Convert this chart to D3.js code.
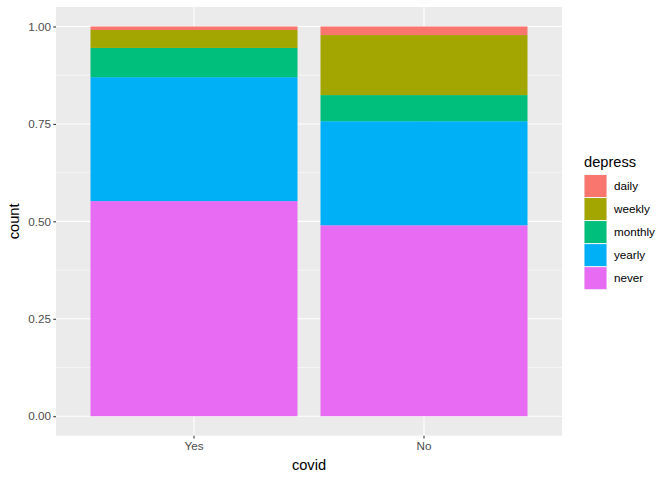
<!DOCTYPE html>
<html><head><meta charset="utf-8">
<script src="https://cdn.jsdelivr.net/npm/d3@7"></script>
<style>body{margin:0;background:#fff}svg{display:block;font-family:"Liberation Sans",Arial,sans-serif}</style>
</head><body><svg id="c" width="672" height="480"></svg>
<script>
const categories = ["Yes", "No"];
const levels = ["daily", "weekly", "monthly", "yearly", "never"];
const colors = ["#F8766D", "#A3A500", "#00BF7D", "#00B0F6", "#E76BF3"];
// proportions per covid group
const daily   = [0.009, 0.022];
const weekly  = [0.046, 0.154];
const monthly = [0.075, 0.067];
const yearly  = [0.318, 0.267];
const never   = [0.552, 0.490];
const yTicks = [0, 0.25, 0.5, 0.75, 1];
const yTickLabels = ["0.00", "0.25", "0.50", "0.75", "1.00"];

const series = {daily, weekly, monthly, yearly, never};
const svg = d3.select("#c");
const P = {l:56, r:562, t:7, b:435.7};

const x = d3.scaleBand().domain(categories).range([P.l, P.r]).paddingInner(0.1).paddingOuter(0.15);
const y = d3.scaleLinear().domain([-0.05, 1.05]).range([P.b, P.t]);

svg.append("rect").attr("x", P.l).attr("y", P.t).attr("width", P.r-P.l).attr("height", P.b-P.t).attr("fill", "#EBEBEB");

// minor grid
const minor = [0.125, 0.375, 0.625, 0.875];
svg.append("g").selectAll("line").data(minor).join("line")
  .attr("x1", P.l).attr("x2", P.r).attr("y1", d=>y(d)).attr("y2", d=>y(d))
  .attr("stroke", "#fff").attr("stroke-width", 0.53);
svg.append("g").selectAll("line").data(yTicks).join("line")
  .attr("x1", P.l).attr("x2", P.r).attr("y1", d=>y(d)).attr("y2", d=>y(d))
  .attr("stroke", "#fff").attr("stroke-width", 1.07);
svg.append("g").selectAll("line").data(categories).join("line")
  .attr("y1", P.t).attr("y2", P.b).attr("x1", d=>x(d)+x.bandwidth()/2).attr("x2", d=>x(d)+x.bandwidth()/2)
  .attr("stroke", "#fff").attr("stroke-width", 1.07);

// stacked bars: never at bottom, daily at top
const stackOrder = levels.slice().reverse();
const rows = categories.map((c, i) => {
  const r = {cat: c};
  levels.forEach(l => r[l] = series[l][i]);
  return r;
});
const stack = d3.stack().keys(stackOrder)(rows);
svg.append("g").selectAll("g").data(stack).join("g")
  .attr("fill", s => colors[levels.indexOf(s.key)])
  .selectAll("rect").data(s => s).join("rect")
  .attr("x", d => x(d.data.cat)).attr("width", x.bandwidth())
  .attr("y", d => y(d[1])).attr("height", d => y(d[0]) - y(d[1]));

// axes
const yAxis = svg.append("g").attr("transform", `translate(${P.l},0)`)
  .call(d3.axisLeft(y).tickValues(yTicks).tickFormat((d,i)=>yTickLabels[i]).tickSize(2.74).tickPadding(2.2));
const xAxis = svg.append("g").attr("transform", `translate(0,${P.b})`)
  .call(d3.axisBottom(x).tickSize(2.74).tickPadding(3.5));
[yAxis, xAxis].forEach(a => {
  a.select(".domain").remove();
  a.selectAll(".tick line").attr("stroke", "#333333").attr("stroke-width", 1.07);
  a.selectAll(".tick text").attr("fill", "#4D4D4D").attr("font-size", "11.7px").attr("font-family", "Liberation Sans, Arial, sans-serif");
});

svg.append("text").attr("x", (P.l+P.r)/2).attr("y", 470).attr("text-anchor", "middle")
  .attr("font-size", "14.67px").text("covid");
svg.append("text").attr("transform", `translate(19,${(P.t+P.b)/2}) rotate(-90)`).attr("text-anchor", "middle")
  .attr("font-size", "14.67px").text("count");

// legend
const lg = svg.append("g");
lg.append("text").attr("x", 584).attr("y", 167).attr("font-size", "14.67px").text("depress");
const keys = lg.selectAll("g").data(levels).join("g")
  .attr("transform", (d,i) => `translate(584,${174.5 + i*23.04})`);
keys.append("rect").attr("width", 23.04).attr("height", 23.04).attr("fill", "#F2F2F2");
keys.append("rect").attr("x", 0.5).attr("y", 0.5).attr("width", 22).attr("height", 22)
  .attr("fill", (d,i) => colors[i]);
keys.append("text").attr("x", 30).attr("y", 11.5).attr("dy", "0.35em").attr("font-size", "11.7px").text(d => d);
</script></body></html>
